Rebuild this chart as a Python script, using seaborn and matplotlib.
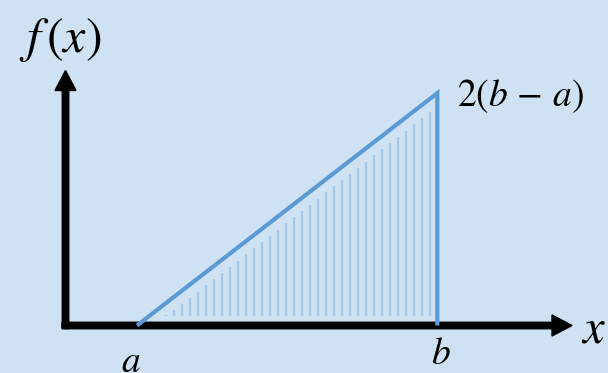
import numpy as np
import pandas as pd
import matplotlib
matplotlib.use("Agg")
import matplotlib.pyplot as plt
from matplotlib.patches import FancyArrow
import seaborn as sns

sns.set_theme(style="white")
plt.rcParams["mathtext.fontset"] = "stix"

# Triangular density on [a, b]
a = 1.0
b = 5.2
peak = 3.25
x_labels = ["$a$", "$b$"]
peak_label = r"$2(b\,-\,a)$"
y_label = r"$f\,(x)$"
x_axis_label = r"$x$"

BG = "#cfe2f3"
EDGE = "#5b9bd5"
HATCH = "#a2c7ea"

W, H, DPI = 608, 373, 100
PX = 71.5                 # pixels per data unit (same on both axes)
ORIGIN = (65.5, 47.5)     # axis crossing, pixels from bottom-left

fig = plt.figure(figsize=(W / DPI, H / DPI), dpi=DPI, facecolor=BG)
ax = fig.add_axes([0, 0, 1, 1])
ax.set_facecolor(BG)
ax.set_xlim(-ORIGIN[0] / PX, (W - ORIGIN[0]) / PX)
ax.set_ylim(-ORIGIN[1] / PX, (H - ORIGIN[1]) / PX)
ax.set_axis_off()

def px(n):
    return n / PX

# coordinate axes with arrow heads
shaft = px(6.5)
ax.add_patch(FancyArrow(-px(3.5), 0, px(572 - 62) - px(20), 0, width=shaft,
                        head_width=px(21), head_length=px(20),
                        length_includes_head=False, color="black", zorder=2))
ax.add_patch(FancyArrow(0, -px(3), 0, px(325 - 67) - px(20), width=shaft,
                        head_width=px(21), head_length=px(20),
                        length_includes_head=False, color="black", zorder=2))

# vertical hatching inside the triangle
hx = np.arange(a + px(28.7), b - px(6), px(8))
line_y = peak * (hx - a) / (b - a)
tops = line_y - px(13)
bottom = px(9.5)
keep = tops >= bottom - px(1)
ax.vlines(hx[keep], bottom, np.maximum(tops[keep], bottom + px(1)),
          color=HATCH, lw=1.6, zorder=3)

# triangle outline
tri = pd.DataFrame({"x": [a, b, b], "y": [0.0, peak, 0.0]})
sns.lineplot(data=tri, x="x", y="y", sort=False, estimator=None, ax=ax,
             color=EDGE, lw=3.0, zorder=4)
for ln in ax.lines:
    ln.set_solid_joinstyle("miter")
    ln.set_solid_capstyle("butt")

# labels
ax.text(-px(5.5), px(325 - 40), y_label, fontsize=36, ha="center", va="center", color="black")
ax.text(px(594 - 65.5), px(325 - 328), x_axis_label, fontsize=35, ha="center", va="center", color="black")
ax.text(b + px(83), peak - px(3), peak_label, fontsize=27, ha="center", va="center", color="black")
ax.text(a - px(6), -px(37), x_labels[0], fontsize=27, ha="center", va="center", color="black")
ax.text(b + px(4), -px(28), x_labels[1], fontsize=27, ha="center", va="center", color="black")

fig.savefig("out.png", dpi=DPI, facecolor=BG)
